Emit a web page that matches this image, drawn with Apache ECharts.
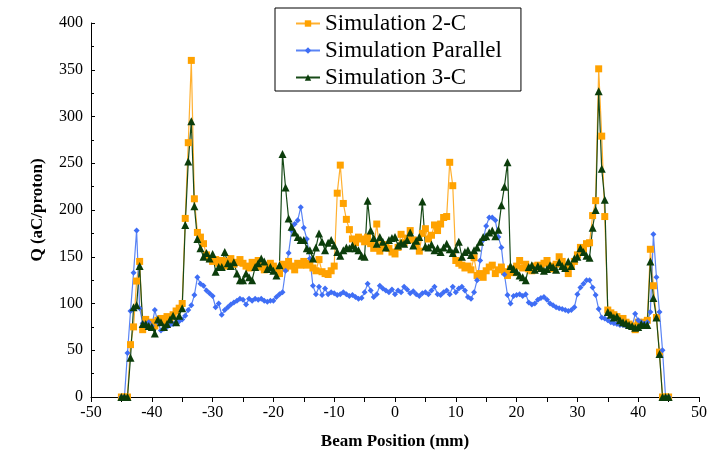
<!DOCTYPE html>
<html>
<head>
<meta charset="utf-8">
<script src="https://cdn.jsdelivr.net/npm/echarts@6/dist/echarts.min.js"></script>
<style>
  html, body { margin: 0; padding: 0; background: #fff; }
  #chart { width: 710px; height: 457px; }
</style>
</head>
<body>
<div id="chart"></div>
<script>
// Beam positions (mm), one sample every 0.5 mm
const positions = [
  -45, -44.5, -44, -43.5, -43, -42.5, -42, -41.5, -41, -40.5,
  -40, -39.5, -39, -38.5, -38, -37.5, -37, -36.5, -36, -35.5,
  -35, -34.5, -34, -33.5, -33, -32.5, -32, -31.5, -31, -30.5,
  -30, -29.5, -29, -28.5, -28, -27.5, -27, -26.5, -26, -25.5,
  -25, -24.5, -24, -23.5, -23, -22.5, -22, -21.5, -21, -20.5,
  -20, -19.5, -19, -18.5, -18, -17.5, -17, -16.5, -16, -15.5,
  -15, -14.5, -14, -13.5, -13, -12.5, -12, -11.5, -11, -10.5,
  -10, -9.5, -9, -8.5, -8, -7.5, -7, -6.5, -6, -5.5,
  -5, -4.5, -4, -3.5, -3, -2.5, -2, -1.5, -1, -0.5,
  0, 0.5, 1, 1.5, 2, 2.5, 3, 3.5, 4, 4.5,
  5, 5.5, 6, 6.5, 7, 7.5, 8, 8.5, 9, 9.5,
  10, 10.5, 11, 11.5, 12, 12.5, 13, 13.5, 14, 14.5,
  15, 15.5, 16, 16.5, 17, 17.5, 18, 18.5, 19, 19.5,
  20, 20.5, 21, 21.5, 22, 22.5, 23, 23.5, 24, 24.5,
  25, 25.5, 26, 26.5, 27, 27.5, 28, 28.5, 29, 29.5,
  30, 30.5, 31, 31.5, 32, 32.5, 33, 33.5, 34, 34.5,
  35, 35.5, 36, 36.5, 37, 37.5, 38, 38.5, 39, 39.5,
  40, 40.5, 41, 41.5, 42, 42.5, 43, 43.5, 44, 44.5,
  45
];

// Charge per proton Q (aC/proton)
const sim2C = [
  0, 0, 0, 56, 75, 124, 145, 72, 83, 78,
  80, 76, 82, 84, 80, 86, 84, 88, 92, 95,
  100, 191, 272, 360, 212, 176, 171, 164, 152, 148,
  145, 147, 143, 146, 140, 145, 148, 142, 144, 147,
  143, 140, 138, 144, 141, 146, 139, 136, 141, 143,
  140, 137, 132, 142, 138, 145, 140, 136, 143, 141,
  145, 141, 143, 138, 135, 147, 134, 132, 131, 135,
  140, 218, 248, 207, 190, 179, 169, 165, 171, 169,
  166, 171, 164, 159, 185, 156, 163, 160, 159, 155,
  153, 160, 174, 165, 170, 178, 168, 163, 156, 175,
  180, 169, 173, 184, 178, 185, 192, 193, 251, 226,
  146, 143, 141, 138, 140, 136, 149, 130, 132, 128,
  135, 139, 141, 132, 136, 139, 134, 130, 137, 133,
  140, 146, 138, 142, 137, 135, 140, 141, 138, 143,
  146, 140, 137, 142, 150, 145, 138, 132, 140, 145,
  152, 160, 158, 164, 165, 194, 210, 351, 279, 193,
  93, 90, 88, 86, 83, 84, 80, 78, 76, 72,
  80, 78, 80, 82, 158, 119, 85, 48, 0, 0,
  0
];

const simParallel = [
  0, 0, 47, 92, 133, 178, 95, 79, 76, 80,
  76, 93, 80, 71, 73, 75, 77, 78, 80, 81,
  83, 87, 93, 98, 109, 128, 121, 119, 114, 111,
  108, 96, 100, 88, 93, 96, 99, 101, 103, 105,
  104, 99, 105, 103, 105, 104, 105, 103, 102, 103,
  103, 107, 110, 112, 135, 154, 178, 185, 189, 203,
  181, 169, 148, 119, 110, 118, 109, 116, 110, 112,
  111, 109, 110, 112, 110, 108, 109, 107, 105, 106,
  112, 121, 114, 107, 110, 119, 116, 114, 112, 115,
  110, 114, 112, 118, 115, 111, 113, 110, 108, 111,
  112, 110, 114, 118, 110, 109, 112, 114, 110, 118,
  112, 116, 118, 114, 107, 105, 112, 125, 146, 168,
  183, 192, 192, 189, 171, 160, 131, 109, 100, 108,
  109, 110, 108, 110, 101, 99, 100, 104, 106, 107,
  104, 100, 98, 96, 95, 94, 93, 92, 93, 96,
  110, 117, 121, 125, 125, 117, 109, 94, 85, 84,
  82, 80, 79, 78, 77, 77, 76, 75, 75, 89,
  82, 80, 78, 80, 91, 174, 128, 91, 50, 0,
  0
];

const sim3C = [
  0, 0, 0, 42, 96, 98, 140, 78, 78, 76,
  75, 68, 83, 80, 75, 78, 83, 87, 80, 87,
  95, 184, 252, 295, 204, 169, 159, 150, 154, 148,
  153, 134, 139, 139, 155, 143, 140, 144, 132, 125,
  125, 132, 128, 125, 139, 143, 148, 145, 137, 139,
  135, 130, 141, 260, 224, 191, 182, 176, 171, 168,
  168, 159, 157, 148, 160, 175, 166, 157, 165, 168,
  162, 155, 151, 157, 160, 159, 162, 159, 157, 151,
  150, 210, 178, 170, 164, 171, 166, 160, 168, 170,
  171, 162, 165, 164, 168, 176, 162, 167, 171, 209,
  161, 160, 163, 157, 159, 155, 160, 164, 158, 154,
  158, 166, 150, 155, 157, 152, 157, 160, 166, 171,
  172, 176, 178, 172, 179, 205, 225, 251, 140, 137,
  134, 130, 128, 125, 139, 141, 136, 140, 138, 135,
  137, 141, 139, 136, 144, 140, 138, 145, 140, 148,
  150, 159, 155, 151, 149, 181, 200, 327, 244, 211,
  91, 88, 85, 86, 82, 80, 79, 77, 76, 74,
  75, 78, 77, 77, 145, 106, 85, 46, 0, 0,
  0
];

const seriesNames = ['Simulation 2-C', 'Simulation Parallel', 'Simulation 3-C'];

const serif = '"Liberation Serif", "Times New Roman", serif';

function pairs(values) {
  return positions.map((x, i) => [x, values[i]]);
}

function lineSeries(name, values, color, lineColor, symbol, size) {
  return {
    name: name,
    type: 'line',
    data: pairs(values),
    symbol: symbol,
    symbolSize: size,
    showSymbol: true,
    animation: false,
    lineStyle: { color: lineColor, width: 1.2 },
    itemStyle: { color: color, borderWidth: 0 },
    emphasis: { disabled: true }
  };
}

const chart = echarts.init(document.getElementById('chart'), null, { renderer: 'canvas' });

chart.setOption({
  backgroundColor: '#ffffff',
  animation: false,
  grid: { left: 91, right: 10, top: 23, bottom: 60, containLabel: false },
  legend: {
    orient: 'vertical',
    left: 275,
    top: 8,
    data: seriesNames,
    itemWidth: 24,
    itemHeight: 8,
    itemGap: 4,
    padding: [4, 19, 2, 20],
    borderColor: '#000',
    borderWidth: 1,
    textStyle: { fontFamily: serif, fontSize: 23, color: '#000' }
  },
  xAxis: {
    type: 'value',
    min: -50,
    max: 50,
    interval: 10,
    name: 'Beam Position (mm)',
    nameLocation: 'middle',
    nameGap: 36,
    nameTextStyle: { fontFamily: serif, fontSize: 17, fontWeight: 'bold', color: '#000' },
    axisLine: { show: true, onZero: false, lineStyle: { color: '#000', width: 1 } },
    axisTick: { show: true, inside: false, length: 5, lineStyle: { color: '#000' } },
    minorTick: { show: true, splitNumber: 2, length: 5, lineStyle: { color: '#000' } },
    axisLabel: { fontFamily: serif, fontSize: 16, color: '#000', margin: 8 },
    splitLine: { show: false }
  },
  yAxis: {
    type: 'value',
    min: 0,
    max: 400,
    interval: 50,
    name: 'Q (aC/proton)',
    nameLocation: 'middle',
    nameRotate: 90,
    nameGap: 45,
    nameTextStyle: { fontFamily: serif, fontSize: 17, fontWeight: 'bold', color: '#000' },
    axisLine: { show: true, onZero: false, lineStyle: { color: '#000', width: 1 } },
    axisTick: { show: true, inside: true, length: 4, lineStyle: { color: '#000' } },
    minorTick: { show: true, splitNumber: 2, length: 3, lineStyle: { color: '#000' } },
    axisLabel: { fontFamily: serif, fontSize: 16, color: '#000', margin: 8 },
    splitLine: { show: false }
  },
  series: [
    lineSeries(seriesNames[0], sim2C, '#FFA200', '#FFB030', 'rect', 7),
    lineSeries(seriesNames[1], simParallel, '#3F6EF5', '#5A84F5', 'diamond', 6),
    lineSeries(seriesNames[2], sim3C, '#0B3D0B', '#174A17', 'triangle', 8)
  ]
});
</script>
</body>
</html>
